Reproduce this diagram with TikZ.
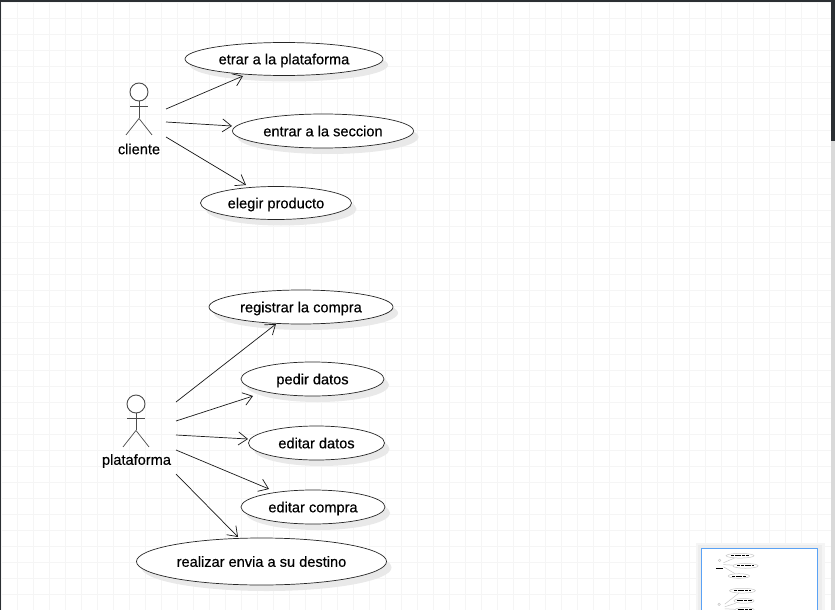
\documentclass[tikz,border=0pt]{standalone}
\usepackage{fontspec}
\setmainfont{Liberation Sans}
\newfontfamily\diagfont[FakeBold=0.35]{Liberation Sans}
\usetikzlibrary{arrows.meta,calc,shapes.geometric}
\definecolor{gridc}{HTML}{F5F5F5}
\definecolor{barc}{HTML}{2B2F33}
\definecolor{shadowc}{HTML}{E9E9E9}
\definecolor{mapb}{HTML}{5AA2F5}
\tikzset{
  usecase/.style={ellipse,draw=black!85,fill=white,line width=0.7pt,inner sep=0pt,font=\diagfont\fontsize{14.6}{16}\selectfont,text=black,text depth=0pt},
  actorlabel/.style={inner sep=0pt,font=\diagfont\fontsize{14.6}{16}\selectfont,text=black},
  actorline/.style={draw=black!70,line width=0.9pt},
  assoc/.style={draw=black!90,line width=0.7pt,-{Straight Barb[length=9pt,width=13pt,line width=0.7pt]}},
  ucshadow/.style={fill=shadowc,draw=none},
  miniuc/.style={draw=black!22,line width=0.5pt,fill=white},
  minibar/.style={draw=black,line width=1pt,dash pattern=on 3pt off 0.7pt},
}
\newcommand{\ucase}[6]{% name, cx, cy, w, h, text
  \fill[ucshadow] (#2+5,#3+6) ellipse ({#4/2} and {#5/2});
  \node[usecase,minimum width=#4pt,minimum height=#5pt] (#1) at (#2,#3) {#6};
}
\newcommand{\actor}[3]{% name, cx, head y
  \node[circle,actorline,fill=white,minimum size=18pt,inner sep=0pt] (#1) at (#2,#3) {};
  \draw[actorline] (#1.south) -- ++(0,17) coordinate (#1hip);
  \draw[actorline] ($(#1.south)+(-9,5)$) -- ++(18,0);
  \draw[actorline,line width=0.7pt] (#1hip) -- ++(-13,16.5);
  \draw[actorline,line width=0.7pt] (#1hip) -- ++(13,16.5);
}
\begin{document}
\begin{tikzpicture}[x=1pt,y=-1pt]
\useasboundingbox (0,0) rectangle (835,610);
\fill[white] (0,0) rectangle (835,610);
% grid
\foreach \x in {1,17,...,833} \draw[gridc,line width=0.9pt] (\x,0) -- (\x,610);
\foreach \y in {2,18,...,610} \draw[gridc,line width=0.9pt] (0,\y) -- (835,\y);
% window edges
\fill[barc] (0,0) rectangle (835,2);
\fill[barc] (0,0) rectangle (1,610);
\fill[black!15] (831,0) rectangle (835,610);
\fill[barc] (831,0) rectangle (835,141);
% use cases
\ucase{etrar}{284}{59}{198}{33}{etrar a la plataforma}
\ucase{seccion}{323}{131}{181}{34}{entrar a la seccion}
\ucase{elegir}{276}{203}{151}{33}{elegir producto}
\ucase{registrar}{301}{307}{184}{34}{registrar la compra}
\ucase{pedir}{312.5}{379}{143}{34}{pedir datos}
\ucase{edatos}{316.5}{443}{136}{34}{editar datos}
\ucase{ecompra}{313}{507}{144}{34}{editar compra}
\ucase{realizar}{261.5}{561.5}{250}{47}{realizar envia a su destino}
% actors
\actor{cliente}{139}{92}
\node[actorlabel] (clientelabel) at (139,149) {cliente};
\actor{plataforma}{136}{404}
\node[actorlabel] (plataformalabel) at (136.5,461) {plataforma};
% connector ends
\coordinate (c1) at ($(cliente)+(27,17)$);
\coordinate (c2) at ($(cliente)+(27,30)$);
\coordinate (c3) at ($(cliente)+(27,45)$);
\coordinate (p1) at ($(plataforma)+(40,-2)$);
\coordinate (p2) at ($(plataforma)+(40,17)$);
\coordinate (p3) at ($(plataforma)+(40,31)$);
\coordinate (p4) at ($(plataforma)+(40,46)$);
\coordinate (p5) at ($(plataforma)+(40,70)$);
\draw[assoc] (c1) -- ($(etrar)+(-41,17)$);
\draw[assoc] (c2) -- ($(seccion)+(-91,-5)$);
\draw[assoc] (c3) -- ($(elegir)+(-30,-18)$);
\draw[assoc] (p1) -- ($(registrar)+(-25,17)$);
\draw[assoc] (p2) -- ($(pedir)+(-59.5,17)$);
\draw[assoc] (p3) -- ($(edatos)+(-68.5,-4)$);
\draw[assoc] (p4) -- ($(ecompra)+(-44,-18)$);
\draw[assoc] (p5) -- ($(realizar)+(-23.5,-24.5)$);
% minimap
\fill[black!4] (696,543) rectangle (825,610);
\fill[black!7] (698,545) rectangle (822,610);
\fill[white] (701,548) rectangle (818,610);
\begin{scope}
\clip (702,549) rectangle (817,610);
\begin{scope}[shift={(700,547.4)},x=0.141pt,y=-0.141pt]
 \foreach \cx/\cy/\w/\h/\t in {284/59/198/33/130,322.5/131/180/34/118,276/203/151/33/98,301/307/184/34/120,312.5/379/143/34/106,316.5/443/136/34/100}{
  \draw[miniuc] (\cx,\cy) ellipse ({\w/2} and {\h/2});
  \draw[minibar] ($(\cx,\cy)+(-\t/2,0)$) -- ($(\cx,\cy)+(\t/2,0)$);
 }
 \draw[miniuc] (139,92) circle (9);
 \draw[miniuc] (136,404) circle (9);
 \draw[black,line width=1.2pt] (113,148) -- (165,148);
 \foreach \a/\b/\c/\d in {166/109/243/76,166/122/232/126,166/137/246/185,176/402/276/324,176/421/253/396,176/435/248/439}
  \draw[black!22,line width=0.5pt] (\a,\b) -- (\c,\d);
\end{scope}
\end{scope}
\draw[mapb,line width=1pt] (701.5,610) -- (701.5,548.5) -- (817.5,548.5) -- (817.5,610);
\end{tikzpicture}
\end{document}
